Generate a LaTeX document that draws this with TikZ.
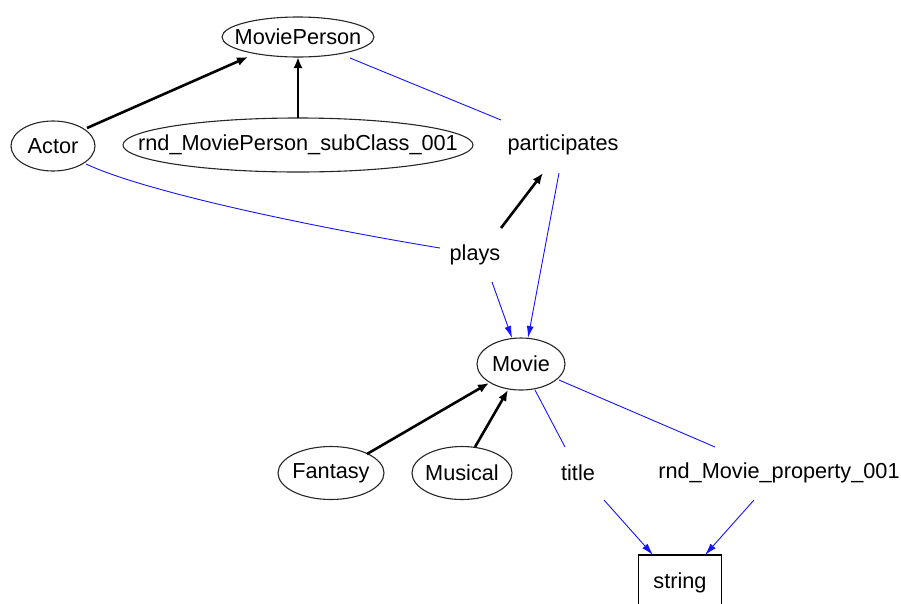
\documentclass[tikz,border=0pt]{standalone}
\usepackage{fontspec}
\setmainfont{Liberation Sans}
\usetikzlibrary{arrows.meta}
\definecolor{edgeblue}{RGB}{20,20,255}
\tikzset{
  lbl/.style={inner sep=0pt, font=\fontsize{21.7}{24}\selectfont},
  outline/.style={draw=black!85, line width=1.1pt},
  dtype/.style={lbl, rectangle, draw=black, line width=1.1pt, minimum width=83pt, minimum height=56pt},
  isa/.style={line width=2.6pt, black, -{Latex[length=11pt,width=9pt]}},
  rel/.style={line width=0.9pt, edgeblue},
  relarrow/.style={rel, -{Latex[length=12pt,width=7pt]}}
}
\begin{document}
\begin{tikzpicture}[x=1pt,y=-1pt]
\useasboundingbox (0,0) rectangle (901,603);

% classes: label nodes with their ellipses
\node[lbl] (mp) at (298,37) {MoviePerson};
\node[lbl] (actor) at (53,146) {Actor};
\node[lbl] (sub) at (298,145) {rnd\_MoviePerson\_subClass\_001};
\node[lbl] (movie) at (521,364) {Movie};
\node[lbl] (fantasy) at (331,473) {Fantasy};
\node[lbl] (musical) at (462,473) {Musical};
\draw[outline] (mp.center) ellipse [x radius=76, y radius=20];
\draw[outline] (actor.center) ellipse [x radius=42, y radius=25];
\draw[outline] (sub.center) ellipse [x radius=175, y radius=27];
\draw[outline] (movie.center) ellipse [x radius=44, y radius=26];
\draw[outline] (fantasy.center) ellipse [x radius=53, y radius=26.5];
\draw[outline] (musical.center) ellipse [x radius=50, y radius=26.5];

% properties
\node[lbl] (part) at (563,145) {participates};
\node[lbl] (plays) at (475,255) {plays};
\node[lbl] (title) at (578,473) {title};
\node[lbl] (mprop) at (779,473) {rnd\_Movie\_property\_001};

% datatype
\node[dtype] (string) at (680,583) {string};

% subclass edges
\draw[isa] ([shift={(34,-18)}]actor.center) -- ([shift={(-50,20)}]mp.center);
\draw[isa] ([shift={(0,-27)}]sub.center) -- ([shift={(0,20)}]mp.center);
\draw[isa] ([shift={(36,-19)}]fantasy.center) -- ([shift={(-32,19)}]movie.center);
\draw[isa] ([shift={(13,-26)}]musical.center) -- ([shift={(-13,26)}]movie.center);
\draw[isa] ([shift={(26,-27)}]plays.center) -- ([shift={(-20,28)}]part.center);

% property edges
\draw[rel] ([shift={(52,21)}]mp.center) -- ([shift={(-62,-25)}]part.center);
\draw[relarrow] ([shift={(-4,28)}]part.center) -- ([shift={(7,-26)}]movie.center);
\draw[rel] ([shift={(33,18)}]actor.center) .. controls (150,194) and (330,230) .. ([shift={(-35,-7)}]plays.center);
\draw[relarrow] ([shift={(17,27)}]plays.center) -- ([shift={(-9,-26)}]movie.center);
\draw[rel] ([shift={(14,26)}]movie.center) -- ([shift={(-13,-26)}]title.center);
\draw[relarrow] ([shift={(26,27)}]title.center) -- ([shift={(-27,-28)}]string.center);
\draw[rel] ([shift={(38,16)}]movie.center) -- ([shift={(-64,-26)}]mprop.center);
\draw[relarrow] ([shift={(-25,27)}]mprop.center) -- ([shift={(25,-28)}]string.center);
\end{tikzpicture}
\end{document}
